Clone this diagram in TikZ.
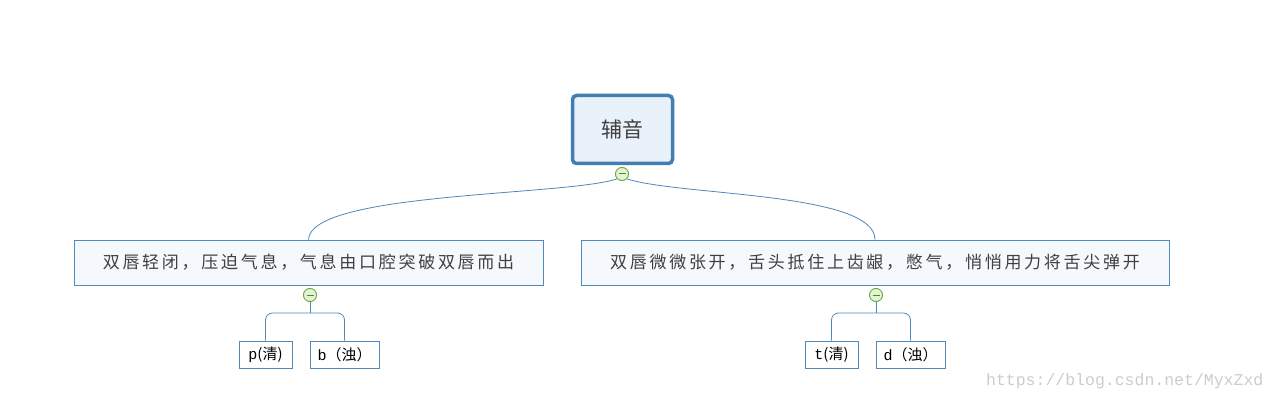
\documentclass[tikz,border=0pt]{standalone}
\usepackage{fontspec}
\usepackage{tikz}
\usetikzlibrary{positioning,calc}

\newfontfamily\cjk{Noto Sans CJK SC}
\newfontfamily\cjkwide[LetterSpace=16]{Noto Sans CJK SC}
\newfontfamily\mono{Liberation Mono}

\definecolor{rootline}{RGB}{66,126,176}
\definecolor{rootfill}{RGB}{233,241,251}
\definecolor{boxline}{RGB}{80,137,186}
\definecolor{boxfill}{RGB}{245,248,252}
\definecolor{knobline}{RGB}{106,170,58}
\definecolor{knobfill}{RGB}{228,243,212}
\definecolor{linkline}{RGB}{78,135,185}

\begin{document}
\begin{tikzpicture}[x=1pt,y=-1pt,semithick]
  \tikzstyle{root}=[draw=rootline,line width=3.5pt,fill=rootfill,rounded corners=4pt,
                    minimum width=100pt,minimum height=68pt,font=\cjk\fontsize{21}{24}\selectfont,text=black!75]
  \tikzstyle{topic}=[draw=boxline,line width=0.8pt,fill=boxfill,minimum height=45pt,
                     font=\cjkwide\fontsize{17}{20}\selectfont,text=black!75,inner sep=0pt]
  \tikzstyle{leaf}=[draw=boxline,line width=0.8pt,fill=white,minimum height=27pt,
                    font=\cjk\fontsize{15}{18}\selectfont,text=black,inner sep=0pt]
  \tikzstyle{knob}=[circle,draw=knobline,line width=0.8pt,fill=knobfill,minimum size=13pt,inner sep=0pt]
  \tikzstyle{link}=[draw=linkline,line width=0.8pt]

  \useasboundingbox (0,0) rectangle (1278,401);

  \node[root]                      (R)  at (622.5,129.5) {辅音};
  \node[knob]                      (k0) at (622,174)     {};

  \node[topic,minimum width=469pt] (L)  at (308.5,262.5) {双唇轻闭，压迫气息，气息由口腔突破双唇而出};
  \node[topic,minimum width=588pt] (Rt) at (875,262.5)   {双唇微微张开，舌头抵住上齿龈，憋气，悄悄用力将舌尖弹开};
  \node[knob]                      (k1) at (310,295)     {};
  \node[knob]                      (k2) at (876,295)     {};

  \node[leaf,minimum width=53pt]   (P)  at (265.5,354.5) {{\mono p}(清)};
  \node[leaf,minimum width=69pt]   (B)  at (344.5,354.5) {{\mono b}（浊）};
  \node[leaf,minimum width=53pt]   (T)  at (831.5,354.5) {{\mono t}(清)};
  \node[leaf,minimum width=69pt]   (D)  at (910.5,354.5) {{\mono d}（浊）};

  \coordinate (j1) at (310,313);
  \coordinate (j2) at (876,313);

  % root to topics
  \draw[link] (k0.south west) .. controls (565,196) and (310,192) .. (L.north);
  \draw[link] (k0.south east) .. controls (680,196) and (875,192) .. (Rt.north);

  % topics to leaves
  \draw[link] (k1) -- (j1);
  \draw[link,rounded corners=7pt] (j1) -| (P.north);
  \draw[link,rounded corners=7pt] (j1) -| (B.north);
  \draw[link] (k2) -- (j2);
  \draw[link,rounded corners=7pt] (j2) -| (T.north);
  \draw[link,rounded corners=7pt] (j2) -| (D.north);

  % collapse knobs on top
  \foreach \k in {k0,k1,k2}
    \node[knob] at (\k) {};
  \foreach \k in {k0,k1,k2}
    \draw[knobline!80!black,line width=1pt] ($(\k)+(-3.5,0)$) -- ($(\k)+(3.5,0)$);

  \node[font=\mono\fontsize{16.5}{18}\selectfont,text=black!20,anchor=east] (wm) at (1267,381) {https://blog.csdn.net/MyxZxd};
\end{tikzpicture}
\end{document}
